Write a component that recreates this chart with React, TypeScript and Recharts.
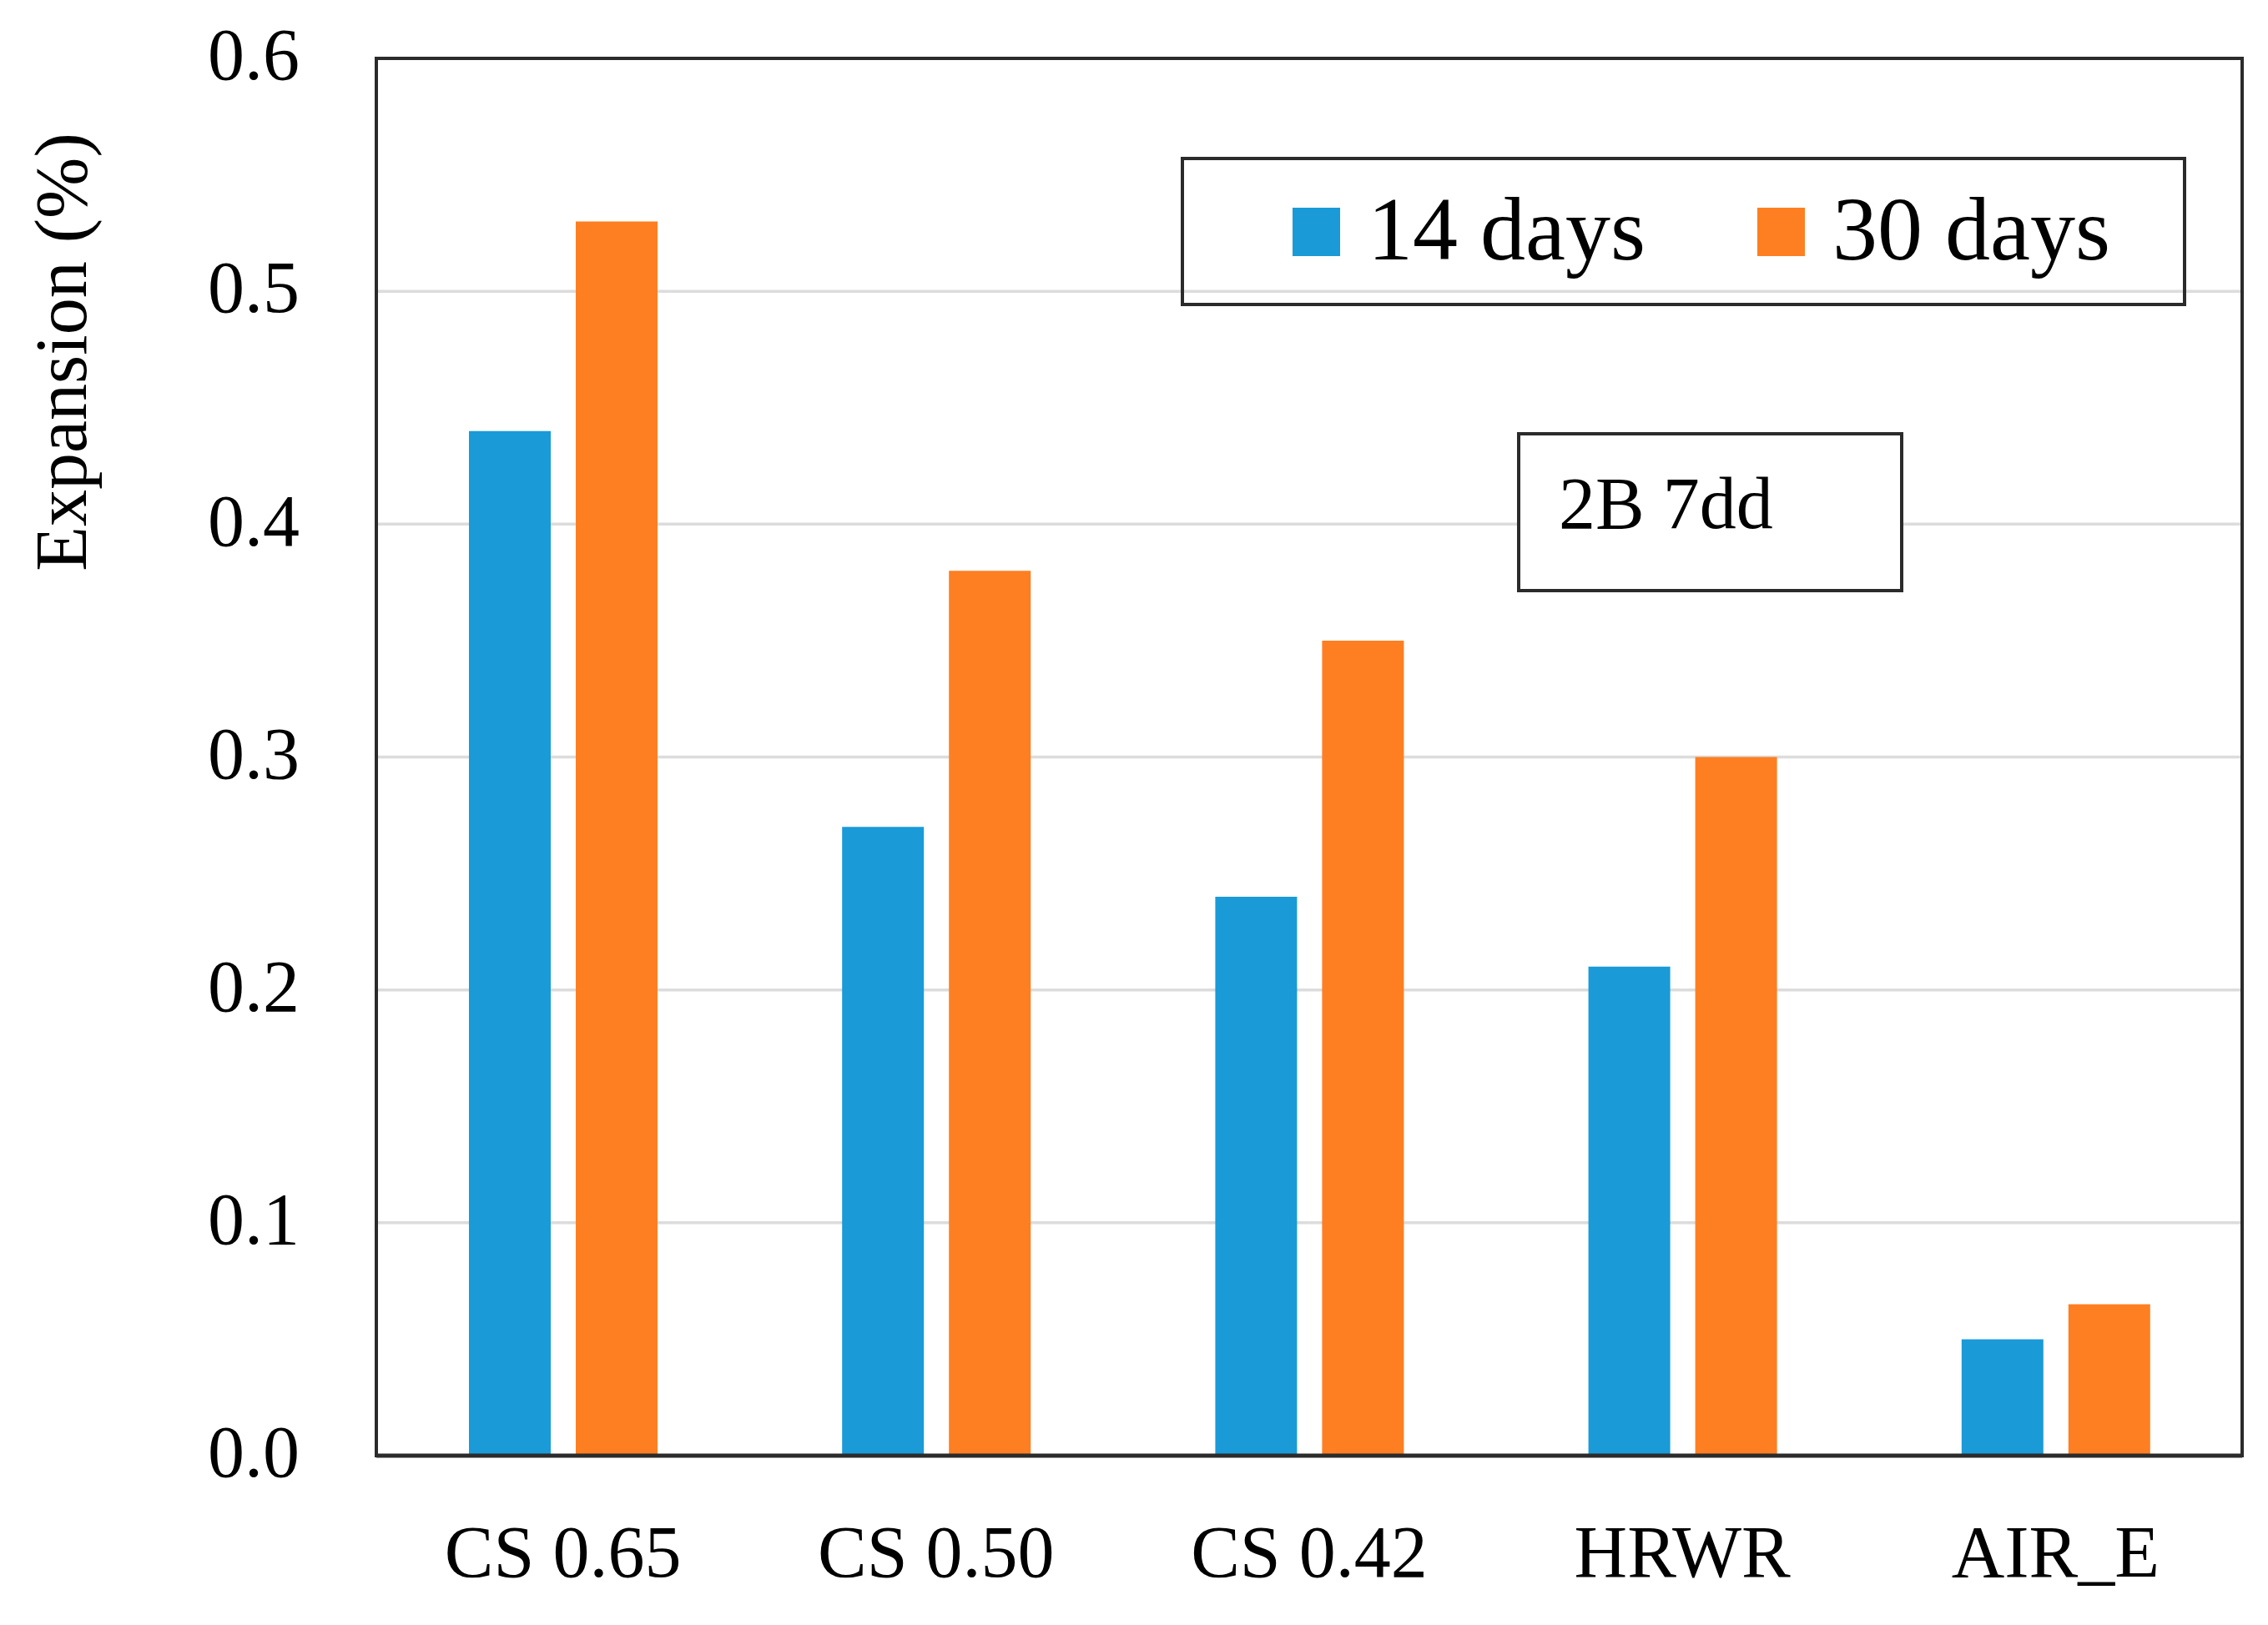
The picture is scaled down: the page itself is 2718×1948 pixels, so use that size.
import { Bar, BarChart, CartesianGrid, Customized, Legend, ReferenceArea, XAxis, YAxis } from "recharts";

const FONT = "'Liberation Serif', 'Times New Roman', serif";
const BLUE = "#1a9bd7";
const ORANGE = "#fe7e22";
const FRAME = "#2b2b2b";
const GRID = "#dcdcdc";

const categories = ["CS 0.65", "CS 0.50", "CS 0.42", "HRWR", "AIR_E"];
const days14 = [0.44, 0.27, 0.24, 0.21, 0.05];
const days30 = [0.53, 0.38, 0.35, 0.3, 0.065];
const yTicks = [0, 0.1, 0.2, 0.3, 0.4, 0.5, 0.6];

const data = categories.map((name, i) => ({ name, d14: days14[i], d30: days30[i] }));

// legend drawn inside a framed box, like the Excel original
function LegendBox({ payload }: { payload?: { value: string; color: string }[] }) {
  return (
    <div
      style={{
        width: "100%",
        height: "100%",
        boxSizing: "border-box",
        border: `4px solid ${FRAME}`,
        display: "flex",
        alignItems: "center",
        paddingLeft: 130,
        paddingBottom: 6,
        fontFamily: FONT,
        fontSize: 108,
        lineHeight: 1,
        color: "#000",
      }}
    >
      {(payload ?? []).map((p, i) => (
        <div key={p.value} style={{ display: "flex", alignItems: "center", marginLeft: i === 0 ? 0 : 134 }}>
          <span style={{ display: "inline-block", width: 57, height: 58, background: p.color, marginRight: 33, marginTop: 6 }} />
          <span>{p.value}</span>
        </div>
      ))}
    </div>
  );
}

function Note() {
  return (
    <g>
      <rect x={1820} y={520} width={459} height={188} fill="#fff" stroke={FRAME} strokeWidth={4} />
      <text x={1868} y={633} fontSize={88} fontFamily={FONT} fill="#000">
        2B 7dd
      </text>
    </g>
  );
}

export default function App() {
  return (
    <div style={{ position: "absolute", left: 0, top: 0, background: "#fff", fontFamily: FONT }}>
      <BarChart
        width={2718}
        height={1948}
        data={data}
        margin={{ top: 70, right: 31, bottom: 53, left: 251 }}
        barSize={98}
        barGap={30}
      >
        <CartesianGrid vertical={false} stroke={GRID} strokeWidth={3.5} />
        {/* plot frame */}
        <ReferenceArea
          x1={categories[0]}
          x2={categories[categories.length - 1]}
          y1={0}
          y2={0.6}
          fill="none"
          fillOpacity={0}
          stroke={FRAME}
          strokeWidth={4}
          strokeOpacity={1}
        />
        <XAxis
          dataKey="name"
          height={150}
          tickLine={false}
          tickSize={0}
          tickMargin={83}
          axisLine={{ stroke: FRAME, strokeWidth: 5 }}
          tick={{ fill: "#000", fontSize: 88, fontFamily: FONT }}
          interval={0}
        />
        <YAxis
          width={200}
          domain={[0, 0.6]}
          ticks={yTicks}
          tickFormatter={(v) => Number(v).toFixed(1)}
          tickLine={false}
          tickSize={0}
          tickMargin={92}
          axisLine={{ stroke: FRAME, strokeWidth: 4 }}
          tick={{ fill: "#000", fontSize: 88, fontFamily: FONT, dy: -6 }}
          label={() => (
            <text x={103} y={422} transform="rotate(-90 103 422)" textAnchor="middle" fontSize={88} fontFamily={FONT} fill="#000">
              Expansion (%)
            </text>
          )}
        />
        <Bar dataKey="d14" name="14 days" fill={BLUE} isAnimationActive={false} />
        <Bar dataKey="d30" name="30 days" fill={ORANGE} isAnimationActive={false} />
        <Legend
          layout="horizontal"
          verticalAlign="middle"
          align="center"
          wrapperStyle={{ left: 1415, top: 188, width: 1205, height: 179 }}
          content={(props: any) => <LegendBox payload={props.payload} />}
        />
        <Customized component={Note} />
      </BarChart>
    </div>
  );
}
